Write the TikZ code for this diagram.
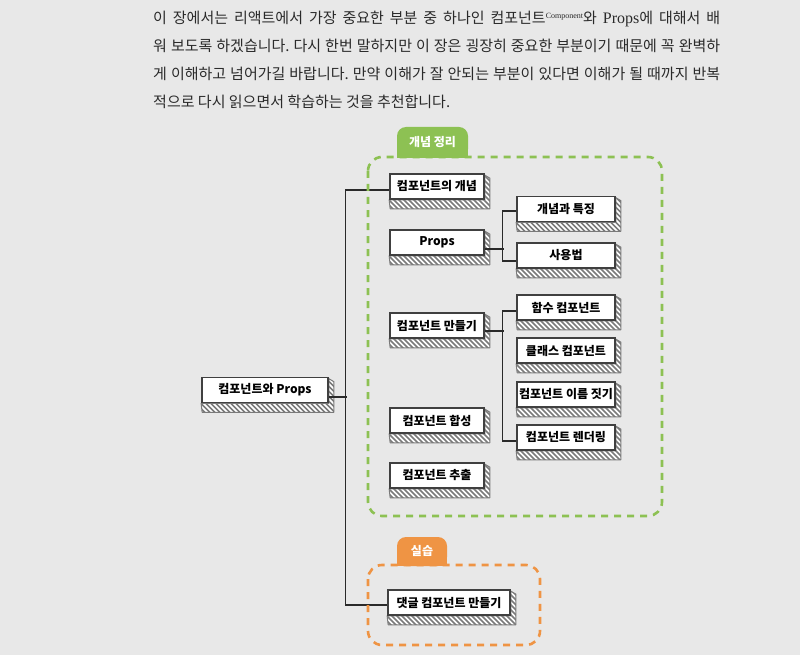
\documentclass[tikz,border=0pt]{standalone}
\usepackage{fontspec}
\newfontfamily\kr{Noto Sans CJK KR}
\newfontfamily\lsf{Liberation Serif}
\usetikzlibrary{backgrounds,calc}
\definecolor{bgc}{HTML}{E8E8E8}
\definecolor{grn}{HTML}{8DC153}
\definecolor{org}{HTML}{EF9444}
\definecolor{ink}{HTML}{2A2A2A}
\definecolor{edge}{HTML}{404040}
\definecolor{hatch}{HTML}{7A7A7A}
\tikzset{
  tbox/.style={draw=edge, line width=1.7pt, fill=white, inner sep=0pt,
    minimum height=25pt, font=\kr\bfseries\fontsize{12}{13}\selectfont, text=black},
  lbox/.style={tbox, minimum width=94pt},
  rbox/.style={tbox, minimum width=98pt},
  sideline/.style={draw=hatch, line width=1pt, line join=round},
  stripe/.style={draw=hatch, line width=1.5pt},
  link/.style={draw=ink, line width=1.1pt},
  gbox/.style={draw=grn, line width=2.6pt, dash pattern=on 7pt off 6pt, rounded corners=14pt},
  obox/.style={draw=org, line width=2.6pt, dash pattern=on 7pt off 6pt, rounded corners=14pt},
  para/.style={anchor=base west, inner sep=0pt, text=ink, font=\kr\fontsize{15}{16}\selectfont},
  tabtxt/.style={text=white, font=\kr\bfseries\fontsize{12}{13}\selectfont, inner sep=0pt}
}
\newcommand\sidepath[1]{([yshift=-2pt]#1.north east) -- ++(5,3) |- ([xshift=1pt,yshift=-9pt]#1.south west)
     -- (#1.south west) -- (#1.south east) -- cycle}
\newcommand\sidepoly[1]{%
  \fill[white] \sidepath{#1};
  \begin{scope}
    \clip \sidepath{#1};
    \foreach \i in {-42,-37,...,140}{\draw[stripe] ([xshift=\i pt]#1.north west) -- ++(50,50);}
  \end{scope}
  \path[sideline] \sidepath{#1};}
\begin{document}
\begin{tikzpicture}[x=1pt,y=-1pt]
\begin{scope}[on background layer]
\fill[bgc] (0,0) rectangle (800,655);
\end{scope}
\useasboundingbox (0,0) rectangle (800,655);

% paragraph
\node[para] (l1) at (153,24) {\makebox[567pt][s]{이 장에서는 리액트에서 가장 중요한 부분 중 하나인 컴포넌트\raisebox{5pt}{\lsf\fontsize{8}{8}\selectfont Component}와 {\lsf\fontsize{16}{16}\selectfont Props}에 대해서 배}};
\node[para] (l2) at (153,52) {\makebox[567pt][s]{워 보도록 하겠습니다.~다시 한번 말하지만 이 장은 굉장히 중요한 부분이기 때문에 꼭 완벽하}};
\node[para] (l3) at (153,80) {\makebox[567pt][s]{게 이해하고 넘어가길 바랍니다.~만약 이해가 잘 안되는 부분이 있다면 이해가 될 때까지 반복}};
\node[para] (l4) at (153,108) {적으로 다시 읽으면서 학습하는 것을 추천합니다.};

% group frames
\draw[gbox] (368,157) rectangle (662,516);
\draw[obox] (368,565) rectangle (540,645);
\fill[grn, rounded corners=9pt] (397,158) -- (397,127) -- (468,127) -- (468,158) -- cycle;
\fill[grn] (397,150) rectangle (468,158);
\node[tabtxt] (tg) at (432.5,142) {개념 정리};
\fill[org, rounded corners=9pt] (397,566) -- (397,537) -- (447,537) -- (447,566) -- cycle;
\fill[org] (397,558) rectangle (447,566);
\node[tabtxt] (to) at (422,551) {실습};

% boxes
\node[tbox, minimum width=126pt] (root) at (265,390) {컴포넌트와 Props};
\node[lbox] (c1) at (437,186.5) {컴포넌트의 개념};
\node[lbox] (props) at (437,242.5) {Props};
\node[lbox] (mk) at (437,325.5) {컴포넌트 만들기};
\node[lbox] (cmp) at (437,420.5) {컴포넌트 합성};
\node[lbox] (ext) at (437,475.5) {컴포넌트 추출};
\node[rbox] (pf) at (566,209) {개념과 특징};
\node[rbox] (pu) at (566,255.5) {사용법};
\node[rbox] (fn) at (566,307.5) {함수 컴포넌트};
\node[rbox] (cl) at (566,350.5) {클래스 컴포넌트};
\node[rbox] (nm) at (566,394.5) {컴포넌트 이름 짓기};
\node[rbox] (rd) at (566,437.5) {컴포넌트 렌더링};
\node[tbox, minimum width=122pt] (reply) at (449,602.5) {댓글 컴포넌트 만들기};

\begin{scope}[on background layer]
\foreach \n in {root,c1,props,mk,cmp,ext,pf,pu,fn,cl,nm,rd,reply}{\sidepoly{\n}}
% connectors
\draw[link] ([yshift=-3.5pt]c1.west) -- ++(-44,0) |- ([yshift=-2.5pt]reply.west);
\draw[link] ([yshift=-7pt]root.east) -- ++(18,0);
\draw[link] ([yshift=-6.5pt]props.east) -- ++(19,0);
\draw[link] ([yshift=-2pt]pf.west) -- ++(-14,0) |- ([yshift=-5.5pt]pu.west);
\draw[link] ([yshift=-5.5pt]mk.east) -- ++(19,0);
\draw[link] ([yshift=-3.5pt]fn.west) -- ++(-14,0) |- ([yshift=-3.5pt]rd.west);
\end{scope}
\end{tikzpicture}
\end{document}
